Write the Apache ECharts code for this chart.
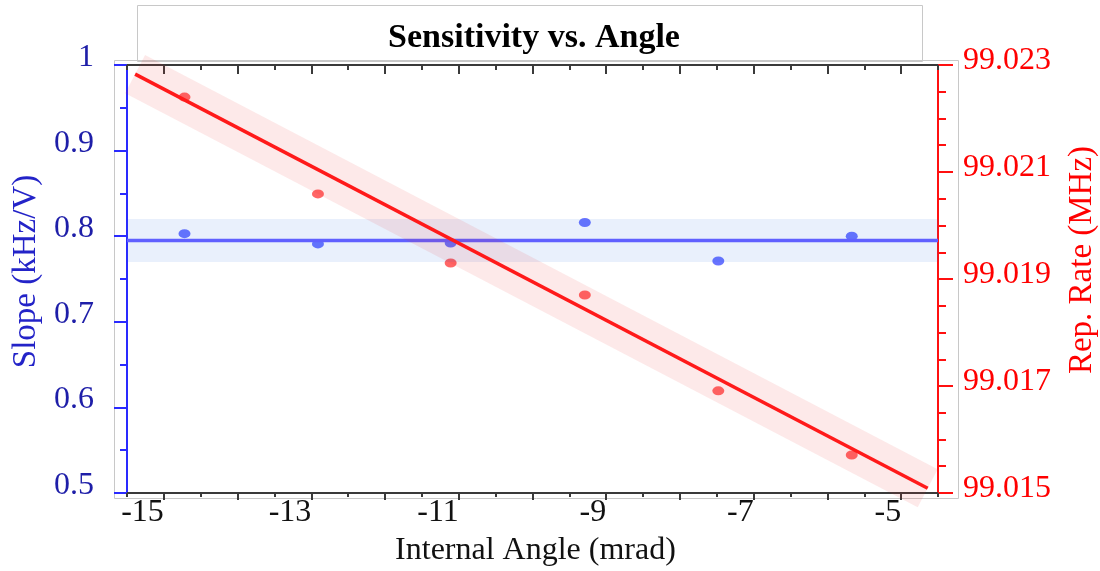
<!DOCTYPE html>
<html><head><meta charset="utf-8">
<script src="https://cdn.jsdelivr.net/npm/echarts@6/dist/echarts.min.js"></script>
<style>html,body{margin:0;padding:0;background:#fff}#chart{width:1100px;height:571px}</style>
</head><body><div id="chart"></div>
<script>
// ---- data ----
const angles = [-14.72, -12.91, -11.11, -9.29, -7.48, -5.67];
const slopeValues = [0.803, 0.791, 0.792, 0.816, 0.771, 0.800];
const repRateValues = [99.02240, 99.02059, 99.01930, 99.01870, 99.01691, 99.01571];
const slopeFitX = [-15.5, -4.5];
const slopeFitY = [0.795, 0.795];
const repFitX = [-15.39, -4.64];
const repFitY = [99.02283, 99.01509];
const xTickLabels = [-15, -13, -11, -9, -7, -5];
const slopeTickLabels = [0.5, 0.6, 0.7, 0.8, 0.9, 1];
const repRateTickLabels = [99.015, 99.017, 99.019, 99.021, 99.023];
const xRange = [-15.5, -4.5];
const slopeRange = [0.5, 1];
const repRateRange = [99.015, 99.023];

// ---- tick positions derived from the ranges ----
const xMajor = [], xMinor = [];
for (let v = -15; v <= -5; v++) xMajor.push(v);
for (let v = -15.5; v <= -4.5; v += 1) xMinor.push(v);
const slopeMinor = [];
for (let i = 0; i < slopeTickLabels.length - 1; i++) slopeMinor.push(+((slopeTickLabels[i] + slopeTickLabels[i + 1]) / 2).toFixed(3));
const repMinor = [];
for (let i = 0; i < repRateTickLabels.length - 1; i++) {
  const a = repRateTickLabels[i], b = repRateTickLabels[i + 1];
  for (let k = 1; k < 4; k++) repMinor.push(+(a + (b - a) * k / 4).toFixed(5));
}

const serif = "'Liberation Serif', 'Times New Roman', serif";
const pairs = (xs, ys) => xs.map((x, i) => [x, ys[i]]);
const gridBox = { left: 127, right: 162, top: 65, bottom: 78, outerBoundsMode: 'none' };
const dark = '#3a3a3a';
const blueAxis = '#2a2aff';
const redAxis = '#ff1010';

const chart = echarts.init(document.getElementById('chart'), null, { renderer: 'canvas' });
chart.setOption({
  animation: false,
  backgroundColor: '#ffffff',
  grid: [Object.assign({}, gridBox), Object.assign({}, gridBox)],
  xAxis: [
    {
      type: 'value', gridIndex: 0, position: 'bottom', min: xRange[0], max: xRange[1],
      axisLine: { lineStyle: { color: dark, width: 2 } },
      axisTick: { customValues: xMajor, length: 7, lineStyle: { color: dark, width: 2 } },
      axisLabel: { customValues: xTickLabels, margin: 4, align: 'right', fontSize: 32, fontFamily: serif, color: '#111', formatter: v => String(v) },
      splitLine: { show: false },
      name: 'Internal Angle (mrad)', nameLocation: 'middle', nameGap: 42,
      nameTextStyle: { fontSize: 32, fontFamily: serif, color: '#111', padding: [0, 0, 0, 6] }
    },
    {
      type: 'value', gridIndex: 0, position: 'top', min: xRange[0], max: xRange[1],
      axisLine: { lineStyle: { color: dark, width: 2 } },
      axisTick: { inside: true, customValues: xMajor, length: 9, lineStyle: { color: dark, width: 2 } },
      axisLabel: { show: false }, splitLine: { show: false }
    },
    {
      type: 'value', gridIndex: 1, position: 'bottom', min: xRange[0], max: xRange[1],
      axisLine: { show: false },
      axisTick: { customValues: xMinor, length: 4, lineStyle: { color: dark, width: 2 } },
      axisLabel: { show: false }, splitLine: { show: false }
    },
    {
      type: 'value', gridIndex: 1, position: 'top', min: xRange[0], max: xRange[1],
      axisLine: { show: false },
      axisTick: { inside: true, customValues: xMinor, length: 5, lineStyle: { color: dark, width: 2 } },
      axisLabel: { show: false }, splitLine: { show: false }
    }
  ],
  yAxis: [
    {
      type: 'value', gridIndex: 0, position: 'left', min: slopeRange[0], max: slopeRange[1],
      axisLine: { lineStyle: { color: blueAxis, width: 2 } },
      axisTick: { customValues: slopeTickLabels, length: 13, lineStyle: { color: blueAxis, width: 2 } },
      axisLabel: { customValues: slopeTickLabels, margin: 33, fontSize: 32, fontFamily: serif, color: '#1e1ea8', verticalAlign: 'bottom', lineHeight: 15, formatter: v => String(v) },
      splitLine: { show: false },
      name: 'Slope (kHz/V)', nameLocation: 'middle', nameRotate: 90, nameGap: 76,
      nameTextStyle: { fontSize: 33, fontFamily: serif, color: '#2323c8', padding: [0, 0, 0, 15] }
    },
    {
      type: 'value', gridIndex: 0, position: 'right', min: repRateRange[0], max: repRateRange[1],
      axisLine: { lineStyle: { color: redAxis, width: 2 } },
      axisTick: { customValues: repRateTickLabels, length: 15, lineStyle: { color: redAxis, width: 2 } },
      axisLabel: { customValues: repRateTickLabels, margin: 25, fontSize: 32, fontFamily: serif, color: '#ff0000', verticalAlign: 'bottom', lineHeight: 9, formatter: v => v.toFixed(3) },
      splitLine: { show: false },
      name: 'Rep. Rate (MHz)', nameLocation: 'middle', nameRotate: 90, nameGap: 128,
      nameTextStyle: { fontSize: 33, fontFamily: serif, color: '#ff0000', padding: [0, 0, 0, 38] }
    },
    {
      type: 'value', gridIndex: 1, position: 'left', min: slopeRange[0], max: slopeRange[1],
      axisLine: { show: false },
      axisTick: { customValues: slopeMinor, length: 7, lineStyle: { color: blueAxis, width: 2 } },
      axisLabel: { show: false }, splitLine: { show: false }
    },
    {
      type: 'value', gridIndex: 1, position: 'right', min: repRateRange[0], max: repRateRange[1],
      axisLine: { show: false },
      axisTick: { customValues: repMinor, length: 8, lineStyle: { color: redAxis, width: 2 } },
      axisLabel: { show: false }, splitLine: { show: false }
    }
  ],
  graphic: [
    { type: 'rect', z: 0, silent: true, shape: { x: 114.5, y: 60.5, width: 844, height: 438 }, style: { fill: 'none', stroke: '#c8c8c8', lineWidth: 1 } },
    { type: 'rect', z: 0, silent: true, shape: { x: 137.5, y: 5.5, width: 785, height: 56 }, style: { fill: 'none', stroke: '#c8c8c8', lineWidth: 1 } },
    { type: 'text', z: 100, silent: true, x: 534, y: 38, style: { text: 'Sensitivity vs. Angle', font: "bold 34px 'Liberation Serif', 'Times New Roman', serif", fill: '#000', align: 'center', verticalAlign: 'middle' } }
  ],
  series: [
    {
      type: 'line', xAxisIndex: 0, yAxisIndex: 0, data: pairs(slopeFitX, slopeFitY), symbol: 'none', silent: true,
      lineStyle: { width: 43, color: 'rgba(40,110,230,0.1)', cap: 'butt' }
    },
    {
      type: 'line', xAxisIndex: 0, yAxisIndex: 0, data: pairs(slopeFitX, slopeFitY), symbol: 'none', silent: true,
      lineStyle: { width: 3.5, color: '#6060ff' }
    },
    {
      type: 'scatter', xAxisIndex: 0, yAxisIndex: 0, data: pairs(angles, slopeValues), symbol: 'circle', symbolSize: [12, 9],
      itemStyle: { color: '#4450ff' }
    },
    {
      type: 'line', xAxisIndex: 0, yAxisIndex: 1, data: pairs(repFitX, repFitY), symbol: 'none', silent: true, clip: false,
      lineStyle: { width: 43, color: 'rgba(240,40,40,0.1)', cap: 'butt' }
    },
    {
      type: 'line', xAxisIndex: 0, yAxisIndex: 1, data: pairs(repFitX, repFitY), symbol: 'none', silent: true, clip: false,
      lineStyle: { width: 3.5, color: '#ff1a1a' }
    },
    {
      type: 'scatter', xAxisIndex: 0, yAxisIndex: 1, data: pairs(angles, repRateValues), symbol: 'circle', symbolSize: [12, 9],
      itemStyle: { color: '#ff4040' }
    }
  ]
});
</script>
</body></html>
